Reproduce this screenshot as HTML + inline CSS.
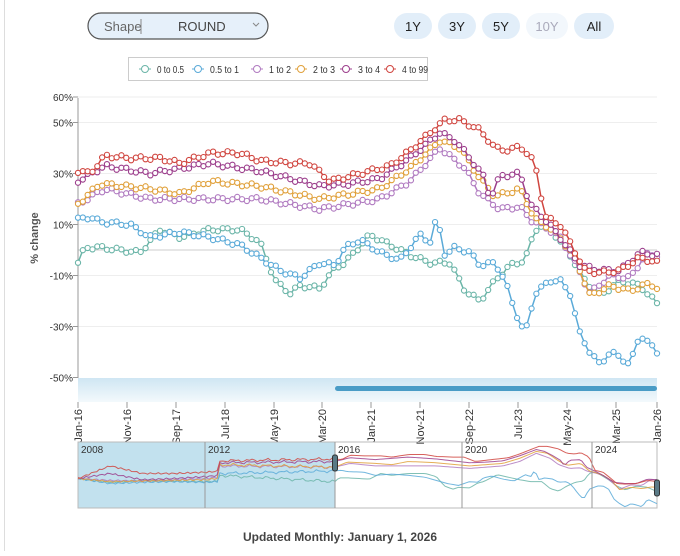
<!DOCTYPE html>
<html><head><meta charset="utf-8"><style>
body{margin:0;background:#fff;font-family:"Liberation Sans",sans-serif;}
svg text{font-family:"Liberation Sans",sans-serif;}
</style></head><body>
<svg id="s" width="680" height="551" xmlns="http://www.w3.org/2000/svg">
<line x1="4.5" y1="0" x2="4.5" y2="551" stroke="#ddd"/>
<rect x="88" y="13" width="180" height="26" rx="13" fill="#e6f0fa" stroke="#555" stroke-width="1.2"/>
<text x="104" y="31" font-size="13" fill="#666">Shape</text>
<line x1="141" y1="19" x2="141" y2="34" stroke="#888"/>
<text x="178" y="31" font-size="13" fill="#444">ROUND</text>
<path d="M253 23 l3 3 l3 -3" fill="none" stroke="#888"/>
<rect x="394" y="13" width="38" height="26" rx="13" fill="#e2eef9"/><text x="413" y="31" font-size="13" text-anchor="middle" fill="#222">1Y</text>
<rect x="438" y="13" width="38" height="26" rx="13" fill="#e2eef9"/><text x="457" y="31" font-size="13" text-anchor="middle" fill="#222">3Y</text>
<rect x="482" y="13" width="38" height="26" rx="13" fill="#e2eef9"/><text x="501" y="31" font-size="13" text-anchor="middle" fill="#222">5Y</text>
<rect x="526" y="13" width="42" height="26" rx="13" fill="#f2f7fc"/><text x="547" y="31" font-size="13" text-anchor="middle" fill="#aab">10Y</text>
<rect x="574" y="13" width="40" height="26" rx="13" fill="#e2eef9"/><text x="594" y="31" font-size="13" text-anchor="middle" fill="#222">All</text>
<rect x="128.5" y="57.5" width="299" height="23" fill="#fff" stroke="#ccc"/>
<g id="leg" font-size="10" fill="#333"></g>
<g id="grid"></g>
<g id="ser"></g>
<rect x="78" y="378" width="579" height="24" fill="url(#gb)"/>
<defs><linearGradient id="gb" x1="0" y1="0" x2="0" y2="1"><stop offset="0" stop-color="#cfe6f3"/><stop offset="1" stop-color="#f3f9fc"/></linearGradient></defs>
<rect x="335" y="386" width="322" height="5" rx="2.5" fill="#4a9cc6"/>
<g id="xl" font-size="11" fill="#333"></g>
<rect x="78" y="442" width="257" height="66" fill="#c2e1ee"/>
<rect x="78" y="442" width="579" height="66" fill="none" stroke="#bbb"/>
<g id="nav"></g>
<text x="340" y="541" font-size="12" font-weight="bold" text-anchor="middle" fill="#444">Updated Monthly: January 1, 2026</text>
</svg>
<script>
const S=document.getElementById('s'),NS='http://www.w3.org/2000/svg';
function el(p,t,a,txt){const e=document.createElementNS(NS,t);for(const k in a)e.setAttribute(k,a[k]);if(txt!=null)e.textContent=txt;document.getElementById(p).appendChild(e);return e;}
const Y=v=>250-v*2.55;
[60,50,30,10,-10,-30,-50].forEach(v=>{const y=Y(v);if(v>-50)el('grid','line',{x1:78,x2:657,y1:y,y2:y,stroke:'#eee'});el('grid','text',{x:73,y:y+4,'font-size':10,'text-anchor':'end',fill:'#333'},v+'%');el('grid','line',{x1:73,x2:78,y1:y,y2:y,stroke:'#999'});});
el('grid','line',{x1:78,x2:657,y1:250,y2:250,stroke:'#ccc'});
el('grid','line',{x1:78,x2:78,y1:98,y2:378,stroke:'#999'});
el('grid','text',{x:38,y:238,'font-size':11,'font-weight':'bold',fill:'#555','text-anchor':'middle',transform:'rotate(-90 38 238)'},'% change');
const C={a:'#6bb5a8',b:'#5aaad8',c:'#b07ac0',d:'#e0a03a',e:'#9c3e8c',f:'#d0453f'};
const D={
a:[[78,-5],[85,1],[100,1],[140,-1],[160,8],[180,5],[210,8],[240,8],[260,3],[275,-12],[290,-17],[300,-14],[320,-15],[335,-7],[345,-5],[370,6],[390,2],[410,-2],[430,-5],[450,-5],[465,-16],[480,-20],[495,-12],[510,-6],[525,-4],[535,8],[545,10],[555,6],[570,-2],[585,-12],[600,-18],[620,-12],[640,-14],[657,-21]],
b:[[78,12],[90,13],[100,11],[130,10],[150,5],[180,7],[210,5],[240,2],[260,-3],[280,-8],[300,-11],[320,-5],[335,-6],[345,1],[360,4],[380,-1],[400,-4],[420,6],[430,3],[437,13],[445,-2],[455,1],[470,-1],[480,-6],[495,-5],[505,-12],[515,-24],[525,-33],[535,-17],[550,-12],[560,-12],[570,-17],[580,-33],[590,-40],[600,-45],[610,-40],[620,-42],[630,-45],[640,-33],[657,-40]],
c:[[78,18],[105,24],[150,20],[210,20],[260,20],[320,16],[350,18],[380,20],[410,27],[440,40],[465,32],[480,22],[500,16],[520,17],[530,12],[545,9],[560,5],[575,-5],[590,-17],[610,-10],[630,-11],[645,-2],[657,-2]],
d:[[78,18],[100,26],[150,24],[180,22],[210,27],[260,25],[320,20],[350,22],[380,24],[410,32],[440,43],[460,40],[480,28],[495,21],[520,24],[535,12],[545,10],[560,5],[575,-3],[590,-18],[610,-14],[630,-16],[650,-13],[657,-15]],
e:[[78,27],[105,33],[150,30],[210,34],[260,31],[320,25],[350,26],[380,28],[410,36],[440,46],[455,43],[470,36],[485,28],[490,20],[500,29],[520,30],[530,18],[545,12],[560,5],[580,-6],[600,-8],[620,-8],[640,-1],[657,-2]],
f:[[78,31],[90,30],[105,37],[130,36],[160,36],[180,34],[210,38],[240,38],[260,35],[290,34],[310,34],[330,27],[350,29],[370,31],[390,33],[410,39],[430,46],[445,51],[460,51],[480,47],[495,40],[510,39],[520,41],[535,34],[545,13],[560,10],[570,3],[585,-8],[600,-9],[620,-8],[640,-3],[657,-5]]};
function val(k,x){const p=D[k];for(let i=1;i<p.length;i++)if(x<=p[i][0]){const t=(x-p[i-1][0])/(p[i][0]-p[i-1][0]);return p[i-1][1]+t*(p[i][1]-p[i-1][1]);}return p[p.length-1][1];}
['a','b','c','d','e','f'].forEach((k,i)=>{let pts=[];for(let j=0;j<=120;j++){const x=78+j*579/120;let v=val(k,x)+Math.sin(j*1.7+i)*0.8;pts.push([x,Y(v)]);}
el('ser','polyline',{points:pts.map(p=>p.join(',')).join(' '),fill:'none',stroke:C[k],'stroke-width':1.5});
pts.forEach(p=>el('ser','circle',{cx:p[0],cy:p[1],r:2.6,fill:'#fff',stroke:C[k],'stroke-width':1.1}));
let np=[];const pre={a:[0,-6,-3,-4,-5,5],b:[0,-8,-6,-5,-6,8],c:[0,-3,-4,-2,0,20],d:[0,-5,-4,-3,-2,22],e:[0,8,-2,0,3,25],f:[0,20,8,8,10,28]}[k];
for(let j=0;j<=96;j++){const x=78+j*257/96;const t=j/96;let v;if(t<0.5){const q=t*2*4;const ii=Math.min(3,Math.floor(q));v=pre[ii]+(pre[ii+1]-pre[ii])*(q-ii);}else{v=pre[4]+(pre[5]-pre[4])*((t-0.5)*2);if(t>0.55)v=pre[5]+(val(k,78)-pre[5])*(t-0.55)/0.45+Math.sin(j)*1.5;}np.push([x,478.5-0.63*v+Math.sin(j*2.3+i)*0.8]);}
for(let j=0;j<=120;j++){const x=78+j*579/120;np.push([335+(x-78)*322/579,478.5-0.63*val(k,x)]);}
el('nav','polyline',{points:np.map(p=>p.join(',')).join(' '),fill:'none',stroke:C[k],'stroke-width':1,opacity:0.85});
});
const L=[['0 to 0.5','a',139,27],['0.5 to 1','b',192,29],['1 to 2','c',251,22],['2 to 3','d',295,22],['3 to 4','e',340,22],['4 to 99','f',384,26]];
L.forEach(([t,k,x,w])=>{el('leg','line',{x1:x,x2:x+12,y1:69,y2:69,stroke:C[k]});el('leg','circle',{cx:x+6,cy:69,r:3.5,fill:'#fff',stroke:C[k]});el('leg','text',{x:x+18,y:73,textLength:w,lengthAdjust:'spacingAndGlyphs'},t);});
const XL=[['Jan-16',78],['Nov-16',127],['Sep-17',176],['Jul-18',225],['May-19',274],['Mar-20',322],['Jan-21',371],['Nov-21',420],['Sep-22',469],['Jul-23',518],['May-24',567],['Mar-25',616],['Jan-26',657]];
XL.forEach(([t,x])=>{el('xl','line',{x1:x,x2:x,y1:402,y2:408,stroke:'#999'});el('xl','text',{x:x+4,y:409,'text-anchor':'end',transform:`rotate(-90 ${x+4} 409)`},t);});
[['2008',78],['2012',205],['2016',335],['2020',462],['2024',592]].forEach(([t,x])=>{if(x>78)el('nav','line',{x1:x,x2:x,y1:442,y2:508,stroke:'#999'});el('nav','text',{x:x+3,y:453,'font-size':10,fill:'#333'},t);});
[335,657].forEach(x=>el('nav','rect',{x:x-2.5,y:455,width:5,height:16,rx:2,fill:'#5a7a86',stroke:'#333'}));
document.querySelectorAll('#nav rect')[1].setAttribute('y',480);
</script>
</body></html>
